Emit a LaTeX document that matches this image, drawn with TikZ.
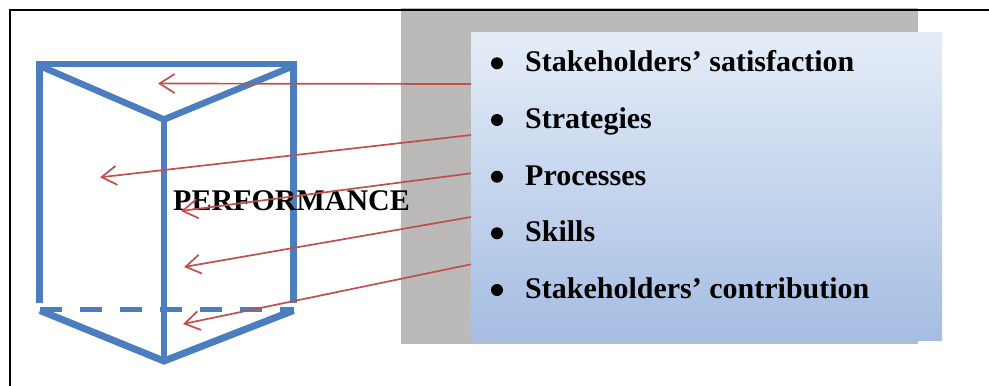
\documentclass[tikz,border=0pt]{standalone}
\usepackage{fontspec}
\setmainfont{Liberation Serif}
\usetikzlibrary{arrows.meta}
\definecolor{prismblue}{RGB}{74,126,190}
\definecolor{arrowred}{RGB}{192,80,77}
\definecolor{shadowgray}{RGB}{187,186,185}
\definecolor{boxtop}{RGB}{229,237,248}
\definecolor{boxbot}{RGB}{165,189,226}
\tikzset{
  edge/.style={prismblue, line width=6.5bp, line cap=butt},
  hiddenedge/.style={prismblue, line width=5.5bp, dash pattern=on 21.7bp off 18.3bp},
  link/.style={arrowred, line width=1.7bp, -{Straight Barb[length=15bp,width=19bp,line width=1.7bp]}},
  item/.style={anchor=base west, inner sep=0pt, font=\fontsize{30bp}{36bp}\selectfont\bfseries},
  dot/.style={circle, fill=black, inner sep=0pt, minimum size=12bp},
}
\begin{document}
\begin{tikzpicture}[x=1bp,y=-1bp]
\useasboundingbox (0,0) rectangle (989,385);
% shadow and frame
\fill[shadowgray] (401,7.5) rectangle (918,344);
\draw[line width=1.6bp] (989,10) -- (10,10) -- (10,386);
% list box
\node[anchor=north west, minimum width=471bp, minimum height=308bp, inner sep=0pt,
      top color=boxtop, bottom color=boxbot] (box) at (471,32) {};
% prism
\coordinate (tl) at (39.7,64);
\coordinate (tr) at (293.7,64);
\coordinate (tm) at (164,119.5);
\coordinate (bl) at (39.7,302.7);
\coordinate (br) at (293.7,302.7);
\coordinate (bm) at (164,363);
\draw[edge] (40,64) -- (293.5,64);
\draw[edge, line join=miter] (40,66) -- (tm) -- (293.5,66);
\draw[edge] (39.7,61) -- (bl);
\draw[edge] (293.7,61) -- (br);
\draw[edge] (164,117) -- (bm);
\draw[hiddenedge] (40,309.3) -- (293.5,309.3);
\draw[edge, line width=7bp, line join=miter] (40,310.5) -- (164,361) -- (293.5,310.5);
\node[item] (perf) at (173,210.7) {PERFORMANCE};
% arrows
\coordinate (s1) at (471,84);
\coordinate (s2) at (471,135);
\coordinate (s3) at (471,173.3);
\coordinate (s4) at (471,217);
\coordinate (s5) at (471,264.3);
\coordinate (t1) at (158,83.5);
\coordinate (t2) at (100,177.3);
\coordinate (t3) at (181,211);
\coordinate (t4) at (184,267);
\coordinate (t5) at (183,324);
\draw[link] (s1) -- (t1);
\draw[link] (s2) -- (t2);
\draw[link] (s3) -- (t3);
\draw[link] (s4) -- (t4);
\draw[link] (s5) -- (t5);
% list items
\node[dot] (d1) at (497,63.3) {};
\node[dot] (d2) at (497,120) {};
\node[dot] (d3) at (497,176.7) {};
\node[dot] (d4) at (497,233.3) {};
\node[dot] (d5) at (497,290) {};
\node[item] (i1) at (525,71.7) {Stakeholders’ satisfaction};
\node[item] (i2) at (525,128.3) {Strategies};
\node[item] (i3) at (525,185) {Processes};
\node[item] (i4) at (525,241.7) {Skills};
\node[item] (i5) at (525,298.3) {Stakeholders’ contribution};
\end{tikzpicture}
\end{document}
